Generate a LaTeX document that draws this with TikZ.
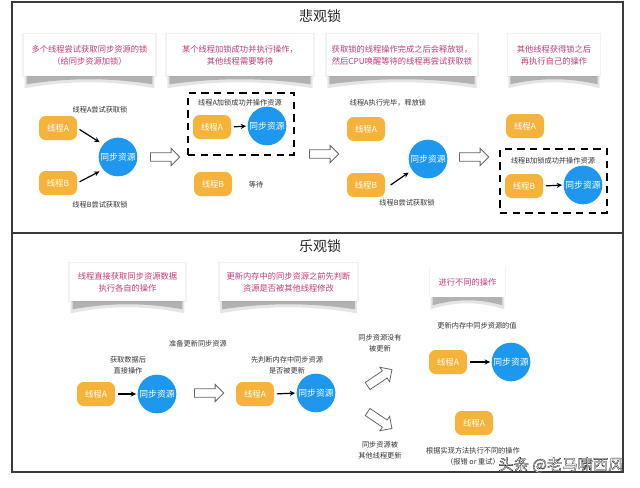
\documentclass[tikz,border=0pt]{standalone}
\usepackage{fontspec}
\setmainfont{Noto Sans CJK SC}
\newfontfamily\wmfont[FakeBold=1.8]{Noto Sans CJK SC}
\usetikzlibrary{shapes.arrows,arrows.meta,shadows,backgrounds,calc}
\definecolor{thr}{HTML}{F5B33B}
\definecolor{res}{HTML}{1E98EF}
\definecolor{pinktxt}{HTML}{C23A78}
\definecolor{txt}{HTML}{333333}
\definecolor{framec}{HTML}{3A3A3A}
\tikzset{
 thread/.style={rectangle, rounded corners=5pt, fill=thr, text=white, minimum width=28.5pt, minimum height=18pt, inner sep=0pt, font=\fontsize{6.3}{7}\selectfont},
 resource/.style={circle, fill=res, text=white, minimum size=29pt, inner sep=0pt, font=\fontsize{6.6}{7}\selectfont},
 lbl/.style={text=txt, align=center, font=\fontsize{5.4}{8.5}\selectfont, inner sep=0pt},
 paper/.style={rectangle, fill=white, text=pinktxt, align=center, inner sep=0pt, font=\fontsize{6.2}{9}\selectfont, drop shadow={shadow xshift=0pt, shadow yshift=0pt, shadow scale=1.03, opacity=0.10}},
 hollow/.style={single arrow, draw=black!60, fill=white, line width=0.6pt, minimum height=22pt, minimum width=13pt, single arrow head extend=3.2pt, inner sep=2.8pt},
 dashbox/.style={draw=black, line width=1.6pt, dash pattern=on 5.5pt off 4pt, inner sep=0pt},
 link/.style={-{Stealth[length=4pt,width=3.8pt]}, line width=0.9pt, black},
 titletext/.style={text=black!85, font=\fontsize{10.5}{12}\selectfont, inner sep=0pt},
 framestyle/.style={draw=framec, line width=1.1pt},
}
\newcommand\curlshadow[1]{%
\begin{pgfonlayer}{background}
\fill[black,opacity=0.10] ([xshift=0.5pt,yshift=4pt]#1.south west) -- ([xshift=0.5pt,yshift=-9pt]#1.south west) .. controls ($(#1.south west)!0.35!(#1.south east)+(0pt,-3pt)$) and ($(#1.south west)!0.65!(#1.south east)+(0pt,-3pt)$) .. ([xshift=-0.5pt,yshift=-9pt]#1.south east) -- ([xshift=-0.5pt,yshift=4pt]#1.south east) -- cycle;
\fill[black,opacity=0.22] ([xshift=2pt,yshift=4pt]#1.south west) -- ([xshift=2pt,yshift=-6pt]#1.south west) .. controls ($(#1.south west)!0.35!(#1.south east)+(0pt,-1pt)$) and ($(#1.south west)!0.65!(#1.south east)+(0pt,-1pt)$) .. ([xshift=-2pt,yshift=-6pt]#1.south east) -- ([xshift=-2pt,yshift=4pt]#1.south east) -- cycle;
\end{pgfonlayer}}
\begin{document}
\begin{tikzpicture}[x=0.75pt,y=-0.75pt]
\useasboundingbox (0,0) rectangle (640,487);
\begin{pgfonlayer}{background}
\fill[white] (0,0) rectangle (640,487);
\end{pgfonlayer}
% frame
\draw[framestyle] (12,2) rectangle (623,472);
\draw[framestyle] (12,233) -- (623,233);
\node[titletext] (t1) at (320,16) {悲观锁};
\node[titletext] (t2) at (320,246) {乐观锁};
% top callouts
\node[paper, minimum width=98pt, minimum height=31.5pt] (c1) at (89.5,55) {多个线程尝试获取同步资源的锁\\（给同步资源加锁）};
\node[paper, minimum width=109.5pt, minimum height=31.5pt] (c2) at (240,55) {某个线程加锁成功并执行操作，\\其他线程需要等待};
\node[paper, minimum width=112.5pt, minimum height=31.5pt] (c3) at (402,55) {获取锁的线程操作完成之后会释放锁，\\然后CPU唤醒等待的线程再尝试获取锁};
\node[paper, minimum width=69pt, minimum height=31.5pt] (c4) at (554,55) {其他线程获得锁之后\\再执行自己的操作};
\curlshadow{c1}\curlshadow{c2}\curlshadow{c3}\curlshadow{c4}
% stage 1
\node[thread] (A1) at (58,128) {线程A};
\node[thread] (B1) at (58,183) {线程B};
\node[resource] (R1) at (118,157) {同步资源};
\draw[link, shorten <=2pt, shorten >=3pt] (A1.east) -- (R1.140);
\draw[link, shorten <=2pt, shorten >=3pt] (B1.east) -- (R1.220);
\node[lbl] (l1) at (100,110) {线程A尝试获取锁};
\node[lbl] (l2) at (100,205) {线程B尝试获取锁};
\node[hollow] (h1) at (163,157) {};
% stage 2
\node[dashbox, minimum width=79.5pt, minimum height=46.5pt] (g1) at (241,124) {};
\node[lbl] (l3) at (240,103) {线程A加锁成功并操作资源};
\node[thread] (A2) at (212,127) {线程A};
\node[resource] (R2) at (267,126) {同步资源};
\draw[link, shorten <=2pt, shorten >=1pt] (A2.east) -- (R2.west);
\node[thread] (B2) at (213,184) {线程B};
\node[lbl] (l4) at (256,185) {等待};
\node[hollow] (h2) at (322,154) {};
% stage 3
\node[lbl] (l5) at (388,103) {线程A执行完毕，释放锁};
\node[thread] (A3) at (366,129) {线程A};
\node[resource] (R3) at (428,159) {同步资源};
\node[thread] (B3) at (366,185) {线程B};
\draw[link, shorten >=3pt] ([xshift=4pt]B3.east) -- (R3.215);
\node[lbl] (l6) at (407,203) {线程B尝试获取锁};
\node[hollow] (h3) at (472,157) {};
% stage 4
\node[thread] (A4) at (525,126) {线程A};
\node[dashbox, minimum width=80.25pt, minimum height=48pt] (g2) at (553.5,181) {};
\node[lbl] (l7) at (553,161) {线程B加锁成功并操作资源};
\node[thread] (B4) at (524,186) {线程B};
\node[resource] (R4) at (583,185) {同步资源};
\draw[link, shorten <=2pt, shorten >=1pt] (B4.east) -- (R4.west);
% bottom callouts
\node[paper, minimum width=86pt, minimum height=28.5pt] (d1) at (127.5,282) {线程直接获取同步资源数据\\执行各自的操作};
\node[paper, minimum width=103pt, minimum height=28.5pt] (d2) at (288.5,282) {更新内存中的同步资源之前先判断\\资源是否被其他线程修改};
\node[paper, minimum width=56pt, minimum height=22.5pt] (d3) at (467.5,282) {进行不同的操作};
\curlshadow{d1}\curlshadow{d2}\curlshadow{d3}
% bottom row
\node[thread] (A5) at (96,394) {线程A};
\node[resource] (R5) at (157,394) {同步资源};
\draw[link, shorten <=2pt, shorten >=1pt] (A5.east) -- (R5.west);
\node[lbl] (l8) at (128,365) {获取数据后\\直接操作};
\node[lbl] (l9) at (198,344) {准备更新同步资源};
\node[hollow] (h4) at (207,393) {};
\node[thread] (A6) at (255,394) {线程A};
\node[resource] (R6) at (316,393) {同步资源};
\draw[link, shorten <=2pt, shorten >=1pt] (A6.east) -- (R6.west);
\node[lbl] (l10) at (287,365) {先判断内存中同步资源\\是否被更新};
\node[lbl] (l11) at (380,343) {同步资源没有\\被更新};
\node[hollow, rotate=34] (h5) at (378,379) {};
\node[hollow, rotate=-34] (h6) at (378,419) {};
\node[lbl] (l12) at (380,450) {同步资源被\\其他线程更新};
\node[lbl] (l13) at (477,326) {更新内存中同步资源的值};
\node[thread] (A7) at (448,362) {线程A};
\node[resource] (R7) at (511,362) {同步资源};
\draw[link, shorten <=2pt, shorten >=1pt] (A7.east) -- (R7.west);
\node[thread] (A8) at (474,423) {线程A};
\node[lbl] (l14) at (473,456) {根据实现方法执行不同的操作\\（报错 or 重试）};
% watermark
\node[text=white, font=\fontsize{11.5}{12}\selectfont, inner sep=0pt] (wm) at (561,465) {\wmfont\special{pdf:code 0 0 0 RG}头条 @老马啸西风};
\end{tikzpicture}
\end{document}
